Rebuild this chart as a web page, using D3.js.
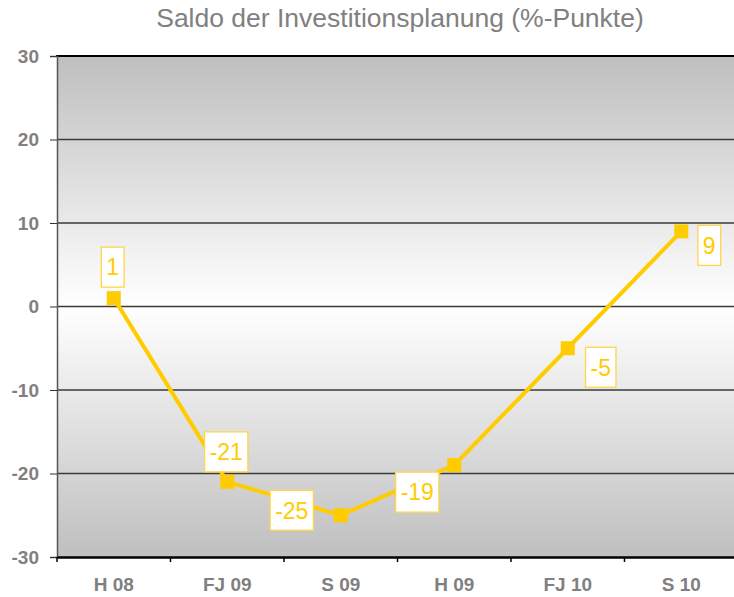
<!DOCTYPE html>
<html>
<head>
<meta charset="utf-8">
<script src="https://cdn.jsdelivr.net/npm/d3@7"></script>
<style>
  body { margin: 0; background: #fff; }
  text { font-family: Arial, "Liberation Sans", sans-serif; }
</style>
</head>
<body>
<svg id="chart" width="734" height="597"></svg>
<script>
// chart data
var categories = ["H 08", "FJ 09", "S 09", "H 09", "FJ 10", "S 10"];
var values = [1, -21, -25, -19, -5, 9];
var yTicks = [30, 20, 10, 0, -10, -20, -30];
var title = "Saldo der Investitionsplanung (%-Punkte)";

// where each value box sits relative to its point (dx, dy of box centre)
var labelOffsets = [[-1, -31], [-1, -30], [-49, -5], [-37, 27], [33, 19], [28, 14]];

var svg = d3.select("#chart"),
    margin = {left: 57, top: 56, right: -4, bottom: 40},
    width = 734 - margin.left - margin.right,
    height = 597 - margin.top - margin.bottom;

var yellow = "#ffcc00";

var xScale = d3.scaleBand()
    .domain(categories)
    .range([margin.left, margin.left + width]);

var yScale = d3.scaleLinear()
    .domain([-30, 30])
    .range([margin.top + height, margin.top]);

// background gradient
var defs = svg.append("defs");
var grad = defs.append("linearGradient")
    .attr("id", "bg")
    .attr("x1", 0).attr("y1", 0).attr("x2", 0).attr("y2", 1);
grad.append("stop").attr("offset", "0%").attr("stop-color", "#bfbfbf");
grad.append("stop").attr("offset", "50%").attr("stop-color", "#ffffff");
grad.append("stop").attr("offset", "100%").attr("stop-color", "#bfbfbf");

svg.append("rect")
    .attr("x", margin.left)
    .attr("y", margin.top)
    .attr("width", width)
    .attr("height", height)
    .style("fill", "url(#bg)");

// gridlines
svg.append("g")
    .selectAll("line")
    .data(yTicks.filter(function (d) { return d !== 30 && d !== -30; }))
    .enter()
    .append("line")
    .attr("x1", margin.left)
    .attr("x2", margin.left + width)
    .attr("y1", function (d) { return yScale(d); })
    .attr("y2", function (d) { return yScale(d); })
    .style("stroke", "#3a3a3a")
    .style("stroke-width", 1.3);

// top border
svg.append("line")
    .attr("x1", margin.left - 1)
    .attr("x2", margin.left + width)
    .attr("y1", yScale(30))
    .attr("y2", yScale(30))
    .style("stroke", "#000")
    .style("stroke-width", 2);

// y axis
var yAxis = d3.axisLeft(yScale)
    .tickValues(yTicks)
    .tickFormat(function (d) { return String(d); })
    .tickSize(7)
    .tickPadding(11);

var yG = svg.append("g")
    .attr("transform", "translate(" + margin.left + ",0)")
    .call(yAxis);
yG.select(".domain").style("stroke", "#555").style("stroke-width", 1.5);
yG.selectAll(".tick line").style("stroke", "#333");
yG.selectAll("text")
    .style("font-size", "19px")
    .style("font-weight", "bold")
    .style("fill", "#808080");

// x axis
var xAxis = d3.axisBottom(xScale)
    .tickSize(0)
    .tickPadding(21);

var xG = svg.append("g")
    .attr("transform", "translate(0," + (margin.top + height) + ")")
    .call(xAxis);
xG.select(".domain").style("stroke", "#000").style("stroke-width", 2.5);
xG.selectAll("text")
    .style("font-size", "19px")
    .style("font-weight", "bold")
    .style("fill", "#808080");

// category separators on the x axis
xG.selectAll(".sep")
    .data(categories)
    .enter()
    .append("line")
    .attr("class", "sep")
    .attr("x1", function (d) { return xScale(d); })
    .attr("x2", function (d) { return xScale(d); })
    .attr("y1", 0)
    .attr("y2", 5)
    .style("stroke", "#000")
    .style("stroke-width", 1.5);

// line
var cx = function (d, i) { return xScale(categories[i]) + xScale.bandwidth() / 2; };

var line = d3.line()
    .x(cx)
    .y(function (d) { return yScale(d); });

svg.append("path")
    .datum(values)
    .attr("d", line)
    .style("fill", "none")
    .style("stroke", yellow)
    .style("stroke-width", 4);

// markers
svg.append("g")
    .selectAll("rect")
    .data(values)
    .enter()
    .append("rect")
    .attr("x", function (d, i) { return cx(d, i) - 7; })
    .attr("y", function (d) { return yScale(d) - 7; })
    .attr("width", 14)
    .attr("height", 14)
    .style("fill", yellow);

// value labels
var labels = svg.append("g")
    .selectAll("g")
    .data(values)
    .enter()
    .append("g")
    .attr("transform", function (d, i) {
        return "translate(" + (cx(d, i) + labelOffsets[i][0]) + "," + (yScale(d) + labelOffsets[i][1]) + ")";
    });

labels.append("text")
    .attr("text-anchor", "middle")
    .attr("dy", "0.36em")
    .style("font-size", "23px")
    .style("fill", yellow)
    .text(function (d) { return d; });

labels.insert("rect", "text")
    .each(function () {
        var bb = this.parentNode.querySelector("text").getBBox();
        d3.select(this)
            .attr("x", -bb.width / 2 - 5)
            .attr("y", -20)
            .attr("width", bb.width + 10)
            .attr("height", 40);
    })
    .style("fill", "#fff")
    .style("stroke", "#ffd54a")
    .style("stroke-width", 1.3);

// title
svg.append("text")
    .attr("x", 400)
    .attr("y", 27)
    .attr("text-anchor", "middle")
    .style("font-size", "26.5px")
    .style("fill", "#808080")
    .text(title);
</script>
</body>
</html>
